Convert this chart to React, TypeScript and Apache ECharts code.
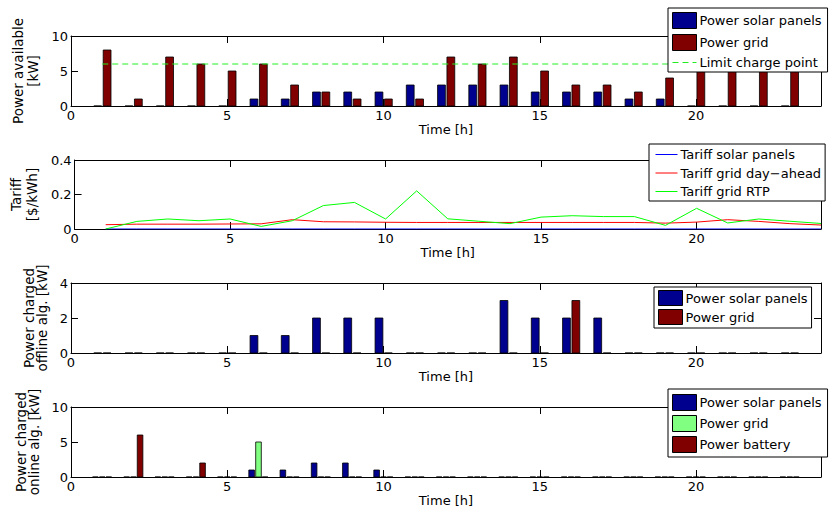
import React, { useEffect, useRef } from 'react';
import * as echarts from 'echarts';

// ---- Data ----
const hours = [1, 2, 3, 4, 5, 6, 7, 8, 9, 10, 11, 12, 13, 14, 15, 16, 17, 18, 19, 20, 21, 22, 23];
const hours24 = [1, 2, 3, 4, 5, 6, 7, 8, 9, 10, 11, 12, 13, 14, 15, 16, 17, 18, 19, 20, 21, 22, 23, 24];

const availSolar = [0, 0, 0, 0, 0, 1, 1, 2, 2, 2, 3, 3, 3, 3, 2, 2, 2, 1, 1, 0, 0, 0, 0];
const availGrid = [8, 1, 7, 6, 5, 6, 3, 2, 1, 1, 1, 7, 6, 7, 5, 3, 3, 2, 4, 8, 8, 8, 8];
const limitHours = [1, 24];
const limitValues = [6, 6];

const tariffSolar = [0, 0, 0, 0, 0, 0, 0, 0, 0, 0, 0, 0, 0, 0, 0, 0, 0, 0, 0, 0, 0, 0, 0, 0];
const tariffDayAhead = [0.025, 0.028, 0.028, 0.028, 0.029, 0.03, 0.054, 0.042, 0.041, 0.039, 0.038, 0.038, 0.038, 0.038, 0.038, 0.038, 0.038, 0.038, 0.034, 0.04, 0.054, 0.044, 0.031, 0.023];
const tariffRTP = [0, 0.044, 0.058, 0.048, 0.058, 0.015, 0.048, 0.136, 0.154, 0.058, 0.221, 0.059, 0.045, 0.031, 0.069, 0.077, 0.072, 0.072, 0.021, 0.12, 0.035, 0.058, 0.045, 0.032];

const offlineSolar = [0, 0, 0, 0, 0, 1, 1, 2, 2, 2, 0, 0, 0, 3, 2, 2, 2, 0, 0, 0, 0, 0, 0];
const offlineGrid = [0, 0, 0, 0, 0, 0, 0, 0, 0, 0, 0, 0, 0, 0, 0, 3, 0, 0, 0, 0, 0, 0, 0];

const onlineSolar = [0, 0, 0, 0, 0, 1, 1, 2, 2, 1, 0, 0, 0, 0, 0, 0, 0, 0, 0, 0, 0, 0, 0];
const onlineGrid = [0, 0, 0, 0, 0, 5, 0, 0, 0, 0, 0, 0, 0, 0, 0, 0, 0, 0, 0, 0, 0, 0, 0];
const onlineBattery = [0, 6, 0, 2, 0, 0, 0, 0, 0, 0, 0, 0, 0, 0, 0, 0, 0, 0, 0, 0, 0, 0, 0];

const labels: Record<string, string> = {
  aSolar: 'Power solar panels',
  aGrid: 'Power grid',
  aLimit: 'Limit charge point',
  tSolar: 'Tariff solar panels',
  tDA: 'Tariff grid day\u2212ahead',
  tRTP: 'Tariff grid RTP',
  fSolar: 'Power solar panels',
  fGrid: 'Power grid',
  oSolar: 'Power solar panels',
  oGrid: 'Power grid',
  oBatt: 'Power battery',
};

const DARK_BLUE = '#00008f';
const DARK_RED = '#800000';
const LIGHT_GREEN = '#80ff80';
const FONT = 'DejaVu Sans';

const grids = [
  { top: 36, height: 70 },
  { top: 160, height: 69 },
  { top: 283, height: 70 },
  { top: 407, height: 70 },
];

function pairs(xs: number[], ys: number[]) {
  return xs.map((x, i) => [x, ys[i]]);
}

function barSeries(name: string, gi: number, xs: number[], ys: number[], color: string, offset: number, width: number) {
  return {
    type: 'custom',
    name,
    xAxisIndex: gi * 2,
    yAxisIndex: gi * 2,
    clip: true,
    itemStyle: { color, borderColor: '#000', borderWidth: 1 },
    encode: { x: 0, y: 1 },
    data: pairs(xs, ys),
    renderItem: (_params: any, api: any) => {
      const x = api.value(0);
      const y = api.value(1);
      const p0 = api.coord([x + offset - width / 2, y]);
      const p1 = api.coord([x + offset + width / 2, 0]);
      return {
        type: 'rect',
        shape: { x: p0[0], y: p0[1], width: p1[0] - p0[0], height: p1[1] - p0[1] },
        style: { fill: color, stroke: '#000', lineWidth: 0.8 },
      };
    },
  };
}

function lineSeries(name: string, gi: number, xs: number[], ys: number[], color: string, dashed = false) {
  return {
    type: 'line',
    name,
    xAxisIndex: gi * 2,
    yAxisIndex: gi * 2,
    symbol: 'none',
    showSymbol: false,
    lineStyle: { color, width: 1, type: dashed ? [6, 4] : 'solid' },
    itemStyle: { color },
    data: pairs(xs, ys),
  };
}

function axesFor(gi: number, ymax: number, yint: number, yname: string, nameGap: number, lineHeight: number) {
  const line = { show: true, onZero: false, lineStyle: { color: '#000', width: 1 } };
  const tick = { show: true, inside: true, length: 7, lineStyle: { color: '#000', width: 1 } };
  const lbl = { color: '#000', fontSize: 13, fontFamily: FONT };
  const xAxes = [
    {
      gridIndex: gi, type: 'value', min: 0, max: 24, interval: 5, position: 'bottom',
      axisLine: line, axisTick: tick, splitLine: { show: false },
      axisLabel: { ...lbl, margin: 3, showMaxLabel: false },
      name: 'Time [h]', nameLocation: 'middle', nameGap: 17,
      nameTextStyle: { color: '#000', fontSize: 13, fontFamily: FONT },
    },
    {
      gridIndex: gi, type: 'value', min: 0, max: 24, interval: 5, position: 'top',
      axisLine: line, axisTick: tick, splitLine: { show: false }, axisLabel: { show: false },
    },
  ];
  const yAxes = [
    {
      gridIndex: gi, type: 'value', min: 0, max: ymax, interval: yint, position: 'left',
      axisLine: line, axisTick: tick, splitLine: { show: false },
      axisLabel: { ...lbl, margin: 3 },
      name: yname, nameLocation: 'middle', nameRotate: 90, nameGap,
      nameTextStyle: { color: '#000', fontSize: 13.5, fontFamily: FONT, lineHeight, align: 'center' },
    },
    {
      gridIndex: gi, type: 'value', min: 0, max: ymax, interval: yint, position: 'right',
      axisLine: line, axisTick: tick, splitLine: { show: false }, axisLabel: { show: false },
    },
  ];
  return { xAxes, yAxes };
}

function legendFor(names: string[], left: number, top: number, padding: number[], itemHeight: number, itemGap: number, itemWidth: number, lineItems: Record<string, any> = {}) {
  return {
    orient: 'vertical',
    left, top, padding, itemHeight, itemGap, itemWidth,
    backgroundColor: '#fff',
    borderColor: '#000',
    borderWidth: 1,
    borderRadius: 0,
    selectedMode: false,
    textStyle: { color: '#000', fontSize: 13, fontFamily: FONT, padding: [0, 0, 0, -2] },
    formatter: (n: string) => labels[n] ?? n,
    data: names.map((n) =>
      lineItems[n]
        ? { name: n, lineStyle: lineItems[n], itemStyle: { opacity: 0 } }
        : { name: n, icon: 'rect', itemStyle: { borderColor: '#000', borderWidth: 1 } }
    ),
  };
}

export default function App() {
  const ref = useRef<HTMLDivElement>(null);
  useEffect(() => {
    if (!ref.current) return;
    const chart = echarts.init(ref.current, null, { renderer: 'svg' });
    const a0 = axesFor(0, 10, 5, 'Power available\n[kW]', 25, 15);
    const a1 = axesFor(1, 0.4, 0.2, 'Tariff\n[$/kWh]', 28, 16);
    const a2 = axesFor(2, 4, 2, 'Power charged\noffline alg. [kW]', 21, 13);
    const a3 = axesFor(3, 10, 5, 'Power charged\nonline alg. [kW]', 29, 13);

    const two = 0.25;
    const three = 0.18;
    const option: any = {
      animation: false,
      backgroundColor: '#fff',
      grid: grids.map((g) => ({ left: 71, width: 750, top: g.top, height: g.height, containLabel: false })),
      xAxis: [...a0.xAxes, ...a1.xAxes, ...a2.xAxes, ...a3.xAxes],
      yAxis: [...a0.yAxes, ...a1.yAxes, ...a2.yAxes, ...a3.yAxes],
      legend: [
        legendFor(['aSolar', 'aGrid', 'aLimit'], 668, 8, [4, 6, 3, 4], 16, 5, 24, {
          aLimit: { color: '#22ee22', width: 1, type: [6, 4] },
        }),
        legendFor(['tSolar', 'tDA', 'tRTP'], 649, 144, [4, 4, 3, 6], 16, 5.5, 22, {
          tSolar: { color: '#0000ff', width: 1 },
          tDA: { color: '#ff0000', width: 1 },
          tRTP: { color: '#00ff00', width: 1 },
        }),
        legendFor(['fSolar', 'fGrid'], 654, 287, [3, 4, 3, 4], 15, 3, 24),
        legendFor(['oSolar', 'oGrid', 'oBatt'], 668, 389, [5, 6, 4, 4], 16, 4, 24),
      ],
      series: [
        barSeries('aSolar', 0, hours, availSolar, DARK_BLUE, -0.145, two),
        barSeries('aGrid', 0, hours, availGrid, DARK_RED, 0.155, two),
        lineSeries('aLimit', 0, limitHours, limitValues, '#22ee22', true),
        lineSeries('tSolar', 1, hours24, tariffSolar, '#0000ff'),
        lineSeries('tDA', 1, hours24, tariffDayAhead, '#ff0000'),
        lineSeries('tRTP', 1, hours24, tariffRTP, '#00ff00'),
        barSeries('fSolar', 2, hours, offlineSolar, DARK_BLUE, -0.145, two),
        barSeries('fGrid', 2, hours, offlineGrid, DARK_RED, 0.155, two),
        barSeries('oSolar', 3, hours, onlineSolar, DARK_BLUE, -0.22, three),
        barSeries('oGrid', 3, hours, onlineGrid, LIGHT_GREEN, 0, three),
        barSeries('oBatt', 3, hours, onlineBattery, DARK_RED, 0.21, three),
      ],
    };
    chart.setOption(option);
    return () => chart.dispose();
  }, []);
  return (
    <div
      ref={ref}
      style={{ position: 'fixed', left: 0, top: 0, width: 832, height: 513, background: '#fff' }}
    />
  );
}
